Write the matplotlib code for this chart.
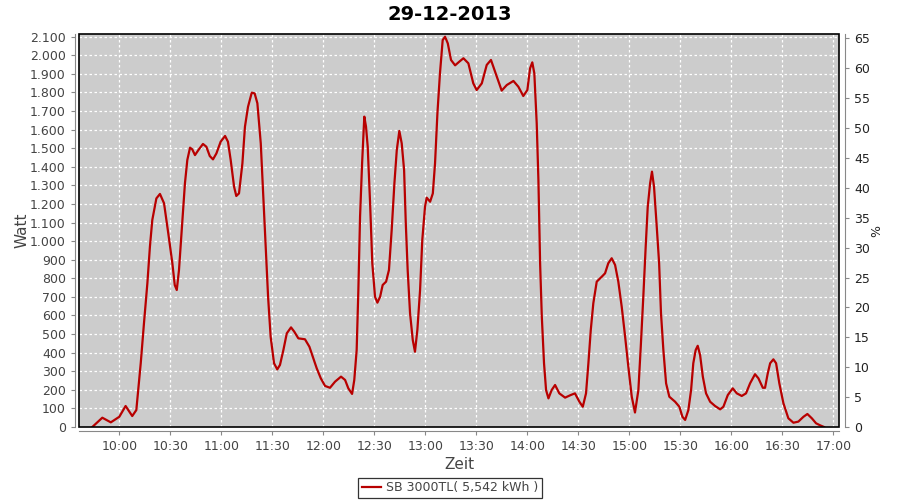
import matplotlib
matplotlib.use("Agg")
import matplotlib.pyplot as plt
from matplotlib.patches import Rectangle
from matplotlib.ticker import FuncFormatter, MultipleLocator

# time in minutes after 10:00, power in Watt
minutes = [-15.9, -10.0, -5.0, 0.0, 3.7, 7.6, 10.0, 12.6, 14.5, 16.5, 18.0, 19.4,
           21.8, 23.9, 26.3, 28.8, 31.2, 32.6, 33.8, 35.1, 36.7, 38.6, 40.0, 41.6,
           42.9, 44.5, 46.5, 49.2, 51.2, 53.2, 55.1, 57.1, 59.6, 62.2, 63.9, 65.5,
           67.5, 68.8, 70.4, 72.4, 73.9, 75.7, 77.9, 79.6, 81.2, 83.2, 84.7, 86.1,
           87.5, 89.0, 91.0, 92.9, 94.5, 96.5, 98.5, 101.0, 102.9, 105.3, 109.2,
           111.8, 114.1, 116.1, 118.5, 121.0, 123.9, 126.9, 130.4, 132.8, 134.7,
           136.9, 138.2, 139.6, 140.6, 141.6, 142.8, 144.1, 145.1, 146.1, 147.5,
           148.8, 150.4, 151.8, 153.4, 154.9, 156.9, 158.6, 160.2, 161.8, 163.2,
           164.7, 166.1, 167.5, 168.5, 169.6, 171.0, 172.6, 173.9, 175.3, 176.9,
           178.2, 179.8, 180.8, 182.8, 184.4, 185.7, 187.1, 188.6, 190.2, 191.6,
           193.2, 195.1, 197.5, 200.0, 202.4, 205.3, 208.2, 210.2, 213.2, 216.1,
           218.6, 221.0, 224.9, 227.9, 231.8, 234.7, 237.6, 240.0, 241.6, 242.9,
           244.1, 245.5, 246.5, 247.5, 248.5, 249.8, 251.0, 252.4, 254.3, 256.3,
           258.8, 262.2, 265.5, 268.0, 270.6, 272.6, 274.5, 275.9, 277.3, 278.8,
           280.8, 283.8, 285.7, 287.6, 289.6, 291.6, 293.5, 295.5, 297.5, 299.4,
           301.4, 303.3, 305.3, 306.7, 308.2, 309.6, 310.8, 312.2, 313.3, 314.5,
           316.1, 317.5, 318.6, 320.0, 321.6, 323.5, 326.9, 329.4, 331.2, 332.8,
           334.7, 336.3, 337.6, 339.0, 340.2, 341.6, 343.2, 345.1, 347.5, 350.4,
           353.4, 355.3, 357.9, 360.8, 363.2, 366.1, 368.6, 371.0, 373.9, 375.9,
           378.5, 379.8, 381.4, 382.8, 384.7, 386.3, 388.2, 390.6, 393.5, 396.5,
           399.4, 402.4, 404.7, 407.3, 409.8, 412.2, 414.5]
watt = [0, 50, 25, 55, 113, 59, 91, 343, 558, 773, 970, 1114,
        1230, 1254, 1204, 1042, 881, 764, 737, 845, 1060, 1311, 1437, 1503,
        1494, 1463, 1490, 1523, 1508, 1458, 1440, 1472, 1535, 1566, 1535, 1437,
        1293, 1243, 1257, 1419, 1616, 1723, 1799, 1795, 1742, 1526, 1239, 970,
        701, 486, 343, 310, 334, 414, 504, 536, 513, 477, 472,
        432, 370, 316, 262, 221, 211, 244, 271, 253, 208,
        178, 253, 414, 737, 1132, 1419, 1670, 1616, 1508, 1204,
        881, 701, 669, 701, 764, 782, 845, 1060, 1311, 1490,
        1593, 1526, 1383, 1096, 845, 612, 468, 405, 522, 737,
        1006, 1185, 1234, 1212, 1257, 1419, 1688, 1903, 2082, 2100,
        2064, 1975, 1946, 1966, 1984, 1957, 1849, 1813, 1849, 1948,
        1975, 1912, 1810, 1840, 1862, 1831, 1781, 1813, 1930, 1962,
        1903, 1634, 1329, 881, 594, 343, 199, 154, 199, 226,
        181, 158, 172, 181, 136, 109, 181, 343, 522, 666,
        782, 809, 827, 881, 908, 872, 782, 647, 486, 324,
        163, 78, 199, 432, 701, 970, 1185, 1311, 1374, 1293,
        1078, 881, 612, 414, 235, 163, 136, 109, 55, 38,
        91, 199, 343, 414, 437, 387, 271, 181, 136, 113,
        95, 109, 172, 208, 181, 167, 181, 235, 284, 262,
        211, 211, 289, 343, 364, 343, 235, 128, 47, 23,
        29, 55, 70, 47, 20, 9, 0]

title = "29-12-2013"
legend_label = "SB 3000TL( 5,542 kWh )"

line_color = "#b80000"
text_gray = "#444444"
axis_gray = "#888888"

fig = plt.figure(figsize=(9, 5), dpi=100)
ax = fig.add_axes([0.0878, 0.146, 0.8448, 0.7854])
ax.set_facecolor("#cccccc")

ax.plot(minutes, watt, color=line_color, lw=1.6, label=legend_label, zorder=3)

ax.set_xlim(-23.7, 423.5)
ax.set_ylim(0, 2113)

ax.xaxis.set_major_locator(MultipleLocator(30))
ax.yaxis.set_major_locator(MultipleLocator(100))


def fmt_time(m, pos):
    total = int(round(600 + m))
    return f"{total // 60:02d}:{total % 60:02d}"


def fmt_watt(v, pos):
    return f"{int(v):,}".replace(",", ".")


ax.xaxis.set_major_formatter(FuncFormatter(fmt_time))
ax.yaxis.set_major_formatter(FuncFormatter(fmt_watt))

ax.grid(True, color="white", linestyle=(0, (2, 2)), linewidth=0.9)
ax.set_axisbelow(True)

for side in ["top", "right"]:
    ax.spines[side].set_visible(False)
for side in ["left", "bottom"]:
    ax.spines[side].set_position(("outward", 3))
    ax.spines[side].set_color(axis_gray)

ax.tick_params(axis="both", direction="out", length=3, color=axis_gray,
               labelsize=9, labelcolor=text_gray)
ax.set_xlabel("Zeit", fontsize=11, color=text_gray, labelpad=3)
ax.set_ylabel("Watt", fontsize=11, color=text_gray, labelpad=0)

# black frame round the plot area
ax.add_patch(Rectangle((0, 0), 1, 1, transform=ax.transAxes, fill=False,
                       edgecolor="black", lw=1.2, zorder=5, clip_on=False))

# right axis in percent
ax2 = ax.twinx()
ax2.set_ylim(0, 2113 * 65 / 2091)
ax2.yaxis.set_major_locator(MultipleLocator(5))
for side in ["top", "left", "bottom"]:
    ax2.spines[side].set_visible(False)
ax2.spines["right"].set_position(("outward", 4))
ax2.spines["right"].set_color(axis_gray)
ax2.tick_params(axis="y", direction="out", length=3, color=axis_gray,
                labelsize=9, labelcolor="#222222")
ax2.set_ylabel("%", fontsize=9, color="#222222", labelpad=0)

fig.text(0.5, 0.972, title, ha="center", va="center", fontsize=14,
         fontweight="bold")

leg = fig.legend(loc="center", bbox_to_anchor=(0.5, 0.024), fontsize=9,
                 frameon=True, fancybox=False, handlelength=1.5,
                 borderpad=0.3, handletextpad=0.4)
leg.get_frame().set_edgecolor("black")
leg.get_frame().set_linewidth(0.9)
for t in leg.get_texts():
    t.set_color(text_gray)

fig.savefig("out.png", dpi=100)
